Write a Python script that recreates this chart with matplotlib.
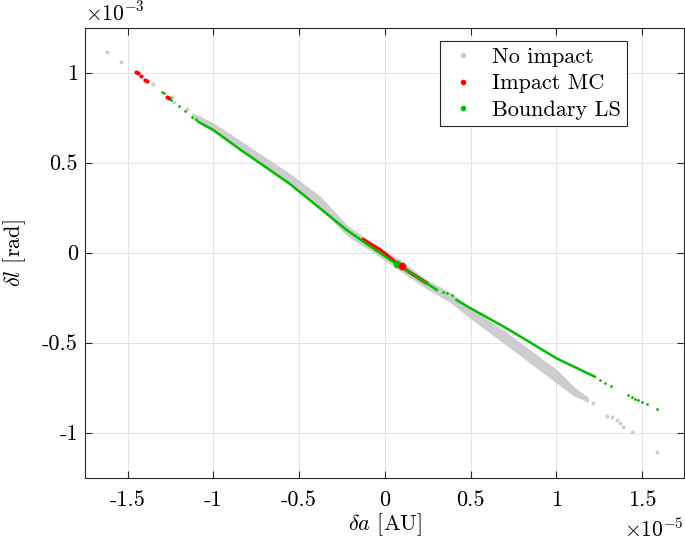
import matplotlib
matplotlib.use('Agg')
import matplotlib.pyplot as plt
from matplotlib.lines import Line2D

# fonte estilo LaTeX (Computer Modern, vem com o matplotlib)
plt.rcParams['font.family'] = 'serif'
plt.rcParams['font.serif'] = ['cmr10']
plt.rcParams['mathtext.fontset'] = 'cm'
plt.rcParams['axes.unicode_minus'] = False

# Dados (da em 1e-5 AU, dl em 1e-3 rad)
# faixa cinza (No impact): x, borda de cima, borda de baixo
gray_x = [-1.125, -1.003, -0.845, -0.554, -0.379, -0.223, -0.068, 0.068, 0.243, 0.379, 0.500, 0.710, 1.001, 1.098, 1.185]
gray_hi = [0.776, 0.721, 0.621, 0.437, 0.313, 0.152, 0.048, -0.029, -0.152, -0.222, -0.309, -0.446, -0.652, -0.744, -0.807]
gray_lo = [0.743, 0.676, 0.571, 0.382, 0.254, 0.098, 0.004, -0.085, -0.198, -0.272, -0.364, -0.513, -0.722, -0.791, -0.829]
# pontos cinza isolados
gray_px = [-1.623, -1.539, -1.351, -1.244, -1.230, -1.156, 1.216, 1.293, 1.322, 1.351, 1.370, 1.390, 1.443, 1.586]
gray_py = [1.113, 1.058, 0.936, 0.867, 0.839, 0.798, -0.833, -0.906, -0.914, -0.929, -0.946, -0.966, -0.998, -1.109]

# linha verde (Boundary LS), dois trechos continuos
green1_x = [-1.089, -1.001, -0.845, -0.554, -0.379, -0.223, -0.068, 0.068, 0.243, 0.303]
green1_y = [0.728, 0.682, 0.574, 0.382, 0.247, 0.126, 0.024, -0.063, -0.170, -0.207]
green2_x = [0.418, 0.500, 0.710, 1.001, 1.224]
green2_y = [-0.263, -0.309, -0.420, -0.587, -0.689]
# pontos verdes soltos
green_px = [-1.302, -1.289, -1.248, -1.199, -1.166, -1.124, -1.102, 0.338, 0.360, 0.389,
            1.254, 1.283, 1.316, 1.419, 1.440, 1.458, 1.477, 1.499, 1.526, 1.584]
green_py = [0.891, 0.886, 0.848, 0.815, 0.787, 0.756, 0.741, -0.217, -0.222, -0.235,
            -0.707, -0.724, -0.741, -0.791, -0.804, -0.813, -0.818, -0.829, -0.842, -0.870]

# pontos vermelhos (Impact MC)
red_px = [-1.452, -1.438, -1.423, -1.398, -1.388, -1.269, -1.259]
red_py = [1.006, 0.997, 0.982, 0.961, 0.956, 0.867, 0.859]
red_lx = [-0.128, -0.029, 0.068, 0.146, 0.245]
red_ly = [0.074, 0.017, -0.058, -0.110, -0.170]

# pontos nominais (maiores)
green_big = (0.068, -0.063)
red_big = (0.099, -0.072)

xticks = [-1.5, -1, -0.5, 0, 0.5, 1, 1.5]
xlabels = ['-1.5', '-1', '-0.5', '0', '0.5', '1', '1.5']
yticks = [-1, -0.5, 0, 0.5, 1]
ylabels = ['-1', '-0.5', '0', '0.5', '1']

cinza = '#cdcdcd'
vermelho = '#ff0000'
verde = '#00bf00'

fig = plt.figure(figsize=(6.85, 5.42), dpi=100)
ax = fig.add_axes([85 / 685, 64.4 / 542, 599 / 685, 449.3 / 542])

# nuvem cinza
ax.fill_between(gray_x, gray_lo, gray_hi, color=cinza, lw=0.6, edgecolor=cinza, zorder=2)
ax.scatter(gray_px, gray_py, s=8, color=cinza, lw=0, zorder=2)

# vermelho
ax.plot(red_lx, red_ly, '-', color=vermelho, lw=2.5, zorder=3, solid_capstyle='round')
ax.scatter(red_px, red_py, s=9, color=vermelho, lw=0, zorder=3)

# verde
ax.plot(green1_x, green1_y, '-', color=verde, lw=1.8, zorder=4)
ax.plot(green2_x, green2_y, '-', color=verde, lw=1.8, zorder=4)
ax.scatter(green_px, green_py, s=4, color=verde, lw=0, zorder=4)

ax.plot(*green_big, 'o', color=verde, ms=5.5, mew=0, zorder=5)
ax.plot(*red_big, 'o', color=vermelho, ms=5.5, mew=0, zorder=6)

# eixos
ax.set_xlim(-1.749, 1.744)
ax.set_ylim(-1.2494, 1.2467)
ax.set_xticks(xticks)
ax.set_xticklabels(xlabels)
ax.set_yticks(yticks)
ax.set_yticklabels(ylabels)
ax.tick_params(direction='in', length=5, width=0.8, top=True, right=True,
               labelsize=16, color='#262626')
ax.tick_params(axis='x', pad=9)
ax.tick_params(axis='y', pad=5)
ax.grid(True, color='#e4e4e4', lw=0.7, zorder=0)
ax.set_axisbelow(True)
for s in ax.spines.values():
    s.set_color('#262626')
    s.set_linewidth(0.8)

ax.set_xlabel(r'$\delta a$ [AU]', fontsize=16, labelpad=1)
ax.set_ylabel(r'$\delta l$ [rad]', fontsize=16, labelpad=10)
ax.text(0.0, 1.017, r'$\times 10^{-3}$', transform=ax.transAxes, fontsize=15.5,
        ha='left', va='baseline')
ax.text(1.0, -0.132, r'$\times 10^{-5}$', transform=ax.transAxes, fontsize=15.5,
        ha='right', va='baseline')

# legenda
handles = [Line2D([], [], ls='none', marker='o', ms=4, mew=0, color=cinza),
           Line2D([], [], ls='none', marker='o', ms=4, mew=0, color=vermelho),
           Line2D([], [], ls='none', marker='o', ms=4, mew=0, color=verde)]
leg = ax.legend(handles, ['No impact', 'Impact MC', 'Boundary LS'], loc='upper right',
                bbox_to_anchor=(0.905, 0.9717), borderaxespad=0, fontsize=16,
                fancybox=False, framealpha=1, edgecolor='#262626',
                handlelength=1.45, handletextpad=0.55, labelspacing=0.3, borderpad=0.3)
leg.get_frame().set_linewidth(0.8)

plt.savefig('out.png', dpi=100)
